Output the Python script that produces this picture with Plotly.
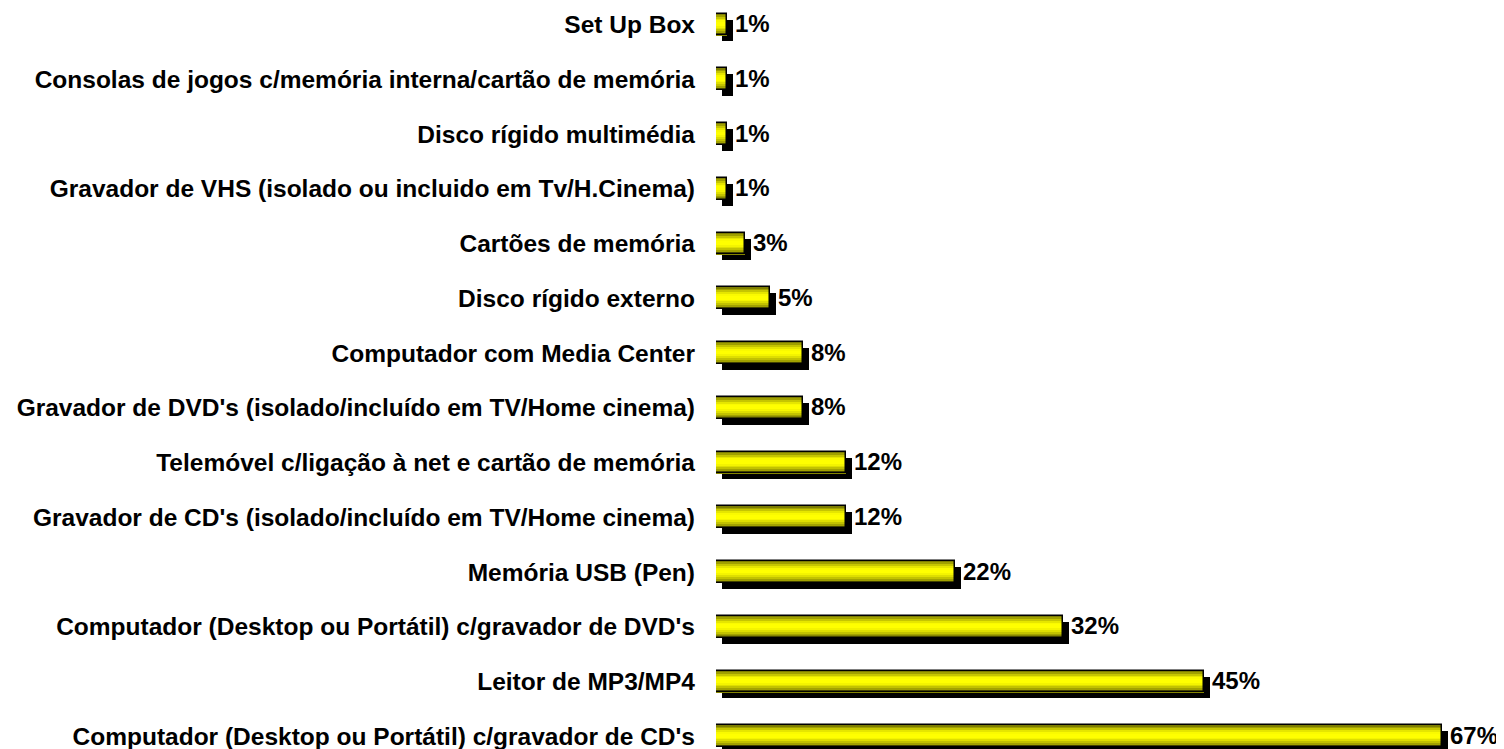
import plotly.graph_objects as go

# categories top to bottom, share of respondents (%)
categories = [
    "Set Up Box",
    "Consolas de jogos c/memória interna/cartão de memória",
    "Disco rígido multimédia",
    "Gravador de VHS (isolado ou incluido em Tv/H.Cinema)",
    "Cartões de memória",
    "Disco rígido externo",
    "Computador com Media Center",
    "Gravador de DVD's (isolado/incluído em TV/Home cinema)",
    "Telemóvel c/ligação à net e cartão de memória",
    "Gravador de CD's (isolado/incluído em TV/Home cinema)",
    "Memória USB (Pen)",
    "Computador (Desktop ou Portátil) c/gravador de DVD's",
    "Leitor de MP3/MP4",
    "Computador (Desktop ou Portátil) c/gravador de CD's",
]
values = [1, 1, 1, 1, 2.7, 5, 8, 8, 12, 12, 22, 32, 45, 67]
labels = [f"{round(v)}%" for v in values]

pos = list(range(len(categories)))

# the page body adds an 8px margin, so the figure is sized/placed to compensate
PAD = 8
W, H = 1504 - PAD, 749 - PAD
left, right = 716 - PAD, 28.5
xmax = 70
px_x = (W - left - right) / xmax          # px per % unit
row_px = 54.75
top_c = 24.5 - PAD
ylo = -top_c / row_px
yhi = (len(categories) - 1) + (H - (top_c + row_px * (len(categories) - 1))) / row_px

bw = 0.4                 # bar thickness in row units
sdx = 6 / px_x           # shadow offset, x
sdy = 6 / row_px         # shadow offset, y

FONT = "Liberation Sans, Arial, Helvetica, sans-serif"

fig = go.Figure()

# drop shadow
fig.add_trace(go.Bar(
    x=values, y=pos, orientation="h", base=sdx, width=bw, offset=-bw / 2 + sdy,
    marker=dict(color="black", line=dict(width=0)), hoverinfo="skip", showlegend=False,
))

# yellow gradient, drawn as thin strips from top to bottom
strips = ["#7e7e00", "#a0a000", "#c6c600", "#e6e600", "#fafa00", "#ffff00",
          "#ffff00", "#f4f400", "#dede00", "#c2c200", "#a2a200", "#858500"]
n = len(strips)
for k, col in enumerate(strips):
    fig.add_trace(go.Bar(
        x=values, y=pos, orientation="h", width=bw / n + 0.002,
        offset=-bw / 2 + k * bw / n,
        marker=dict(color=col, line=dict(width=0)), hoverinfo="skip", showlegend=False,
    ))

# outline
fig.add_trace(go.Bar(
    x=values, y=pos, orientation="h", width=bw, offset=-bw / 2,
    marker=dict(color="rgba(0,0,0,0)", line=dict(color="black", width=1.5)),
    hovertemplate="%{x}%<extra></extra>", showlegend=False,
))

for v, p, t in zip(values, pos, labels):
    fig.add_annotation(
        x=v, y=p, text=t, showarrow=False, xanchor="left", yanchor="middle",
        xshift=6, yshift=1, font=dict(family=FONT, size=24, color="black", weight="bold"),
    )

fig.update_layout(
    width=W, height=H,
    barmode="overlay",
    bargap=0,
    plot_bgcolor="white", paper_bgcolor="white",
    margin=dict(l=left, r=right, t=0, b=0),
    font=dict(family=FONT, color="black"),
    xaxis=dict(range=[0, xmax], visible=False, fixedrange=True),
    yaxis=dict(
        range=[yhi, ylo], tickvals=pos, ticktext=categories,
        showgrid=False, zeroline=False, showline=False, ticks="",
        ticklabelstandoff=20, automargin=False, ticklabeloverflow="allow",
        tickfont=dict(family=FONT, size=24.5, color="black", weight="bold"),
    ),
)

fig.write_html("out.html")
